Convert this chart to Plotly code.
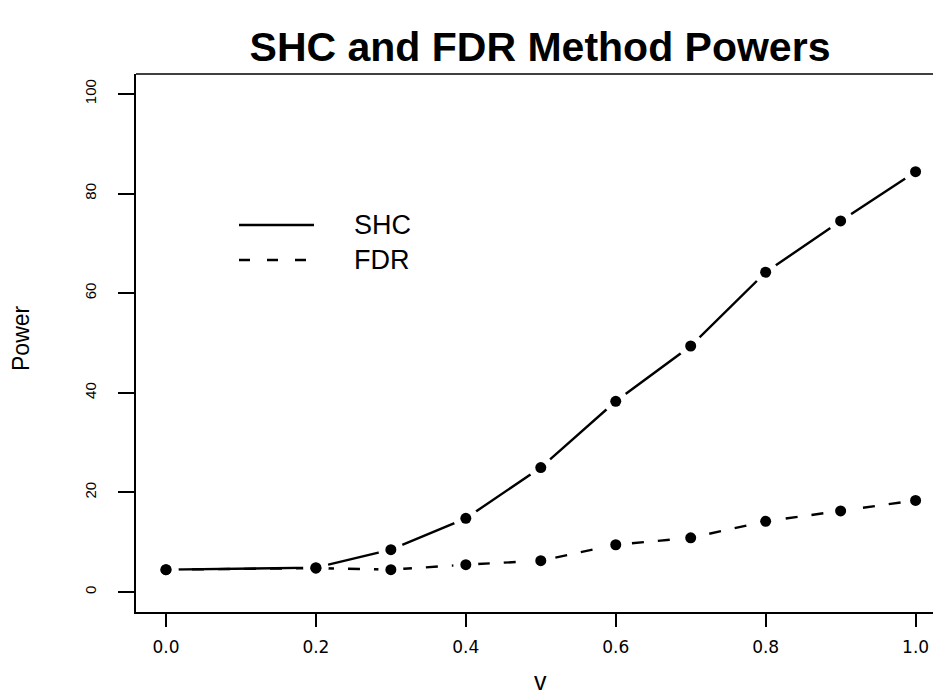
import plotly.graph_objects as go

v = [0.0, 0.2, 0.3, 0.4, 0.5, 0.6, 0.7, 0.8, 0.9, 1.0]
shc = [4.5, 4.9, 8.5, 14.8, 25.0, 38.3, 49.4, 64.2, 74.5, 84.4]
fdr = [4.5, 4.8, 4.5, 5.5, 6.3, 9.5, 10.9, 14.2, 16.3, 18.4]
x_ticks = [0.0, 0.2, 0.4, 0.6, 0.8, 1.0]
x_tick_labels = ["0.0", "0.2", "0.4", "0.6", "0.8", "1.0"]
y_ticks = [0, 20, 40, 60, 80, 100]
y_tick_labels = ["0", "20", "40", "60", "80", "100"]
series_names = ["SHC", "FDR"]

OFF = 8  # default body margin of the html page
W, H = 941 - OFF, 698 - OFF
# page-pixel geometry of the plot box in the reference
BOX_L, BOX_T, BOX_B = 136, 74, 612
L, T = BOX_L - OFF, BOX_T - OFF
B = H - (BOX_B - OFF)
FONT = "Liberation Sans, Arial, Helvetica, sans-serif"
FONT_WIDE = "DejaVu Sans, Verdana, sans-serif"

fig = go.Figure()
fig.add_trace(go.Scatter(x=v, y=fdr, mode="lines",
                         line=dict(color="black", width=2.4, dash="12px,14px"),
                         showlegend=False, hoverinfo="skip"))
fig.add_trace(go.Scatter(x=v, y=shc, mode="lines",
                         line=dict(color="black", width=2.4),
                         showlegend=False, hoverinfo="skip"))
# white halos to produce R type="b" gaps
fig.add_trace(go.Scatter(x=v + v, y=shc + fdr, mode="markers",
                         marker=dict(color="white", size=25, line=dict(width=0)),
                         showlegend=False, hoverinfo="skip"))
fig.add_trace(go.Scatter(x=v, y=shc, mode="markers", name=series_names[0],
                         marker=dict(color="black", size=11, line=dict(width=0)),
                         showlegend=False))
fig.add_trace(go.Scatter(x=v, y=fdr, mode="markers", name=series_names[1],
                         marker=dict(color="black", size=11, line=dict(width=0)),
                         showlegend=False))

plot_w = W - L
px_per_unit = 749.6
x_range = [-0.04, -0.04 + plot_w / px_per_unit]
ph = H - T - B


def py(y):
    return (BOX_B - y) / ph


def pxx(x):
    return (x - BOX_L) / plot_w


fig.update_layout(
    width=W, height=H,
    margin=dict(l=L, r=0, t=T, b=B),
    paper_bgcolor="white", plot_bgcolor="white",
    font=dict(family=FONT, color="black"),
    showlegend=False,
    title=dict(text="<b>SHC and FDR Method Powers</b>", x=pxx(540), xref="paper",
               xanchor="center", y=1 - (47 - OFF) / H, yanchor="middle", yref="container",
               font=dict(size=41, family=FONT, color="black")),
    xaxis=dict(range=x_range, tickvals=x_ticks, ticktext=x_tick_labels,
               showgrid=False, zeroline=False, showline=True, linecolor="black", linewidth=1.5,
               ticks="outside", ticklen=13, tickwidth=1.5, tickcolor="black",
               ticklabelstandoff=6,
               tickfont=dict(size=17, family=FONT_WIDE, color="black")),
    yaxis=dict(range=[-4, 104], tickvals=y_ticks, ticktext=y_tick_labels,
               showgrid=False, zeroline=False, showline=True, linecolor="black", linewidth=1.5,
               ticks="outside", ticklen=16, tickwidth=1.5, tickcolor="black", tickangle=-90,
               ticklabelstandoff=16,
               tickfont=dict(size=15, family=FONT, color="black")),
)

# top border of box (right border lies outside the image in the reference)
fig.add_shape(type="line", xref="paper", yref="paper", x0=0, x1=1, y0=1, y1=1,
              line=dict(color="black", width=1.5))

# legend
fig.add_shape(type="line", xref="paper", yref="paper", x0=pxx(239), x1=pxx(314),
              y0=py(225), y1=py(225), line=dict(color="black", width=2.4))
fig.add_shape(type="line", xref="paper", yref="paper", x0=pxx(239), x1=pxx(314),
              y0=py(260), y1=py(260), line=dict(color="black", width=2.4, dash="11px,17px"))
for name, yy in zip(series_names, [225, 260]):
    fig.add_annotation(text=name, xref="paper", yref="paper", x=pxx(352), y=py(yy),
                       xanchor="left", yanchor="middle", showarrow=False,
                       font=dict(size=27, family=FONT, color="black"))

# axis titles
fig.add_annotation(text="v", xref="paper", yref="paper", x=pxx(540), y=py(681),
                   xanchor="center", yanchor="middle", showarrow=False,
                   font=dict(size=25, family=FONT, color="black"))
fig.add_annotation(text="Power", xref="paper", yref="paper", x=pxx(21), y=py(338),
                   xanchor="center", yanchor="middle", showarrow=False, textangle=-90,
                   font=dict(size=23, family=FONT, color="black"))

fig.write_html("out.html")
